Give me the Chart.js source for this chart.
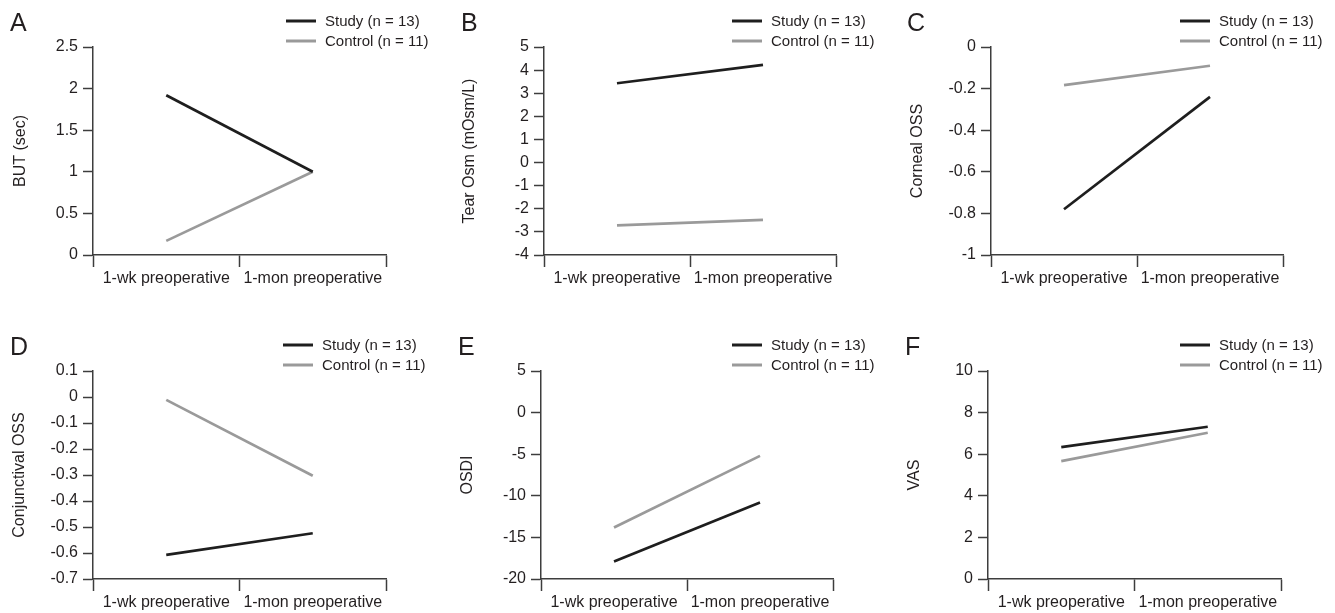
<!DOCTYPE html>
<html lang="en">
<head>
    <meta charset="UTF-8">
    <title>Preoperative changes</title>
    <script src="https://cdn.jsdelivr.net/npm/chart.js"></script>
    <style>
        html, body { margin: 0; padding: 0; background: #fff; overflow: hidden; }
        #wrap { position: relative; width: 1335px; height: 613px; }
        #wrap canvas { position: absolute; }
    </style>
</head>
<body>
    <div id="wrap">
        <canvas id="chartA" width="445" height="300" style="left:0;top:0"></canvas>
        <canvas id="chartB" width="445" height="300" style="left:445px;top:0"></canvas>
        <canvas id="chartC" width="445" height="300" style="left:890px;top:0"></canvas>
        <canvas id="chartD" width="445" height="300" style="left:0;top:324px"></canvas>
        <canvas id="chartE" width="445" height="300" style="left:445px;top:324px"></canvas>
        <canvas id="chartF" width="445" height="300" style="left:890px;top:324px"></canvas>
    </div>
    <script>
        // categories and series names
        const timepoints = ['1-wk preoperative', '1-mon preoperative'];
        const studyName = 'Study (n = 13)';
        const controlName = 'Control (n = 11)';

        // A - BUT
        const butStudy = [1.92, 1.0];
        const butControl = [0.17, 1.0];
        const butTicks = [0, 0.5, 1, 1.5, 2, 2.5];

        // B - tear osmolarity
        const osmStudy = [3.43, 4.23];
        const osmControl = [-2.72, -2.48];
        const osmTicks = [-4, -3, -2, -1, 0, 1, 2, 3, 4, 5];

        // C - corneal OSS
        const cornealStudy = [-0.78, -0.24];
        const cornealControl = [-0.183, -0.09];
        const cornealTicks = [-1, -0.8, -0.6, -0.4, -0.2, 0];

        // D - conjunctival OSS
        const conjStudy = [-0.607, -0.524];
        const conjControl = [-0.011, -0.303];
        const conjTicks = [-0.7, -0.6, -0.5, -0.4, -0.3, -0.2, -0.1, 0, 0.1];

        // E - OSDI
        const osdiStudy = [-17.9, -10.8];
        const osdiControl = [-13.8, -5.2];
        const osdiTicks = [-20, -15, -10, -5, 0, 5];

        // F - VAS
        const vasStudy = [6.34, 7.32];
        const vasControl = [5.67, 7.03];
        const vasTicks = [0, 2, 4, 6, 8, 10];

        const FONT = '"Liberation Sans", Arial, Helvetica, sans-serif';
        const TEXT = '#231f20';
        const AXIS = '#3d3d3d';
        const STUDY_COLOR = '#1e1e1e';
        const CONTROL_COLOR = '#9a9a9a';

        // panel letter + custom two-row legend
        const decor = {
            id: 'decor',
            afterDraw(chart, args, opts) {
                const ctx = chart.ctx;
                ctx.save();
                ctx.fillStyle = TEXT;
                ctx.textAlign = 'left';
                ctx.textBaseline = 'alphabetic';
                ctx.font = '25px ' + FONT;
                ctx.fillText(opts.letter, opts.letterX, 31);

                ctx.font = '15px ' + FONT;
                ctx.textBaseline = 'middle';
                chart.data.datasets.forEach((ds, i) => {
                    const y = 21 + i * 20;
                    ctx.strokeStyle = ds.borderColor;
                    ctx.lineWidth = 3;
                    ctx.beginPath();
                    ctx.moveTo(opts.legendX, y);
                    ctx.lineTo(opts.legendX + 30, y);
                    ctx.stroke();
                    ctx.fillStyle = TEXT;
                    ctx.fillText(ds.label, opts.legendX + 39, y + 1);
                });
                ctx.restore();
            }
        };

        function makePanel(id, p) {
            const ticks = p.ticks;
            new Chart(document.getElementById(id), {
                type: 'line',
                data: {
                    labels: timepoints,
                    datasets: [
                        { label: studyName, data: p.study, borderColor: STUDY_COLOR, backgroundColor: STUDY_COLOR, borderWidth: 2.7, pointRadius: 0, tension: 0 },
                        { label: controlName, data: p.control, borderColor: CONTROL_COLOR, backgroundColor: CONTROL_COLOR, borderWidth: 2.7, pointRadius: 0, tension: 0 }
                    ]
                },
                options: {
                    responsive: false,
                    animation: false,
                    layout: { padding: { top: 47, left: 0, right: p.right, bottom: 0 } },
                    plugins: {
                        legend: { display: false },
                        tooltip: { enabled: false },
                        decor: { letter: p.letter, letterX: p.letterX, legendX: p.legendX }
                    },
                    scales: {
                        x: {
                            type: 'category',
                            offset: true,
                            grid: { offset: true, drawOnChartArea: false, tickLength: 12, tickColor: AXIS, tickWidth: 1.5 },
                            border: { color: AXIS, width: 1.5 },
                            ticks: { color: TEXT, font: { family: FONT, size: 16 }, padding: 2, maxRotation: 0, autoSkip: false },
                            afterFit: s => { s.height = 45; }
                        },
                        y: {
                            min: ticks[0],
                            max: ticks[ticks.length - 1],
                            afterBuildTicks: s => { s.ticks = ticks.map(v => ({ value: v })); },
                            grid: { drawOnChartArea: false, tickLength: 10, tickColor: AXIS, tickWidth: 1.5 },
                            border: { color: AXIS, width: 1.5 },
                            ticks: { color: TEXT, font: { family: FONT, size: 16 }, padding: 5, callback: v => String(v) },
                            title: { display: true, text: p.yTitle, color: TEXT, font: { family: FONT, size: 16 }, padding: { top: p.titlePad, bottom: 0 } },
                            afterFit: s => { s.width = p.left; }
                        }
                    }
                },
                plugins: [decor]
            });
        }

        makePanel('chartA', { letter: 'A', yTitle: 'BUT (sec)', study: butStudy, control: butControl, ticks: butTicks,
            left: 93, right: 59, letterX: 10, legendX: 286, titlePad: 11 });
        makePanel('chartB', { letter: 'B', yTitle: 'Tear Osm (mOsm/L)', study: osmStudy, control: osmControl, ticks: osmTicks,
            left: 99, right: 54, letterX: 16, legendX: 287, titlePad: 15 });
        makePanel('chartC', { letter: 'C', yTitle: 'Corneal OSS', study: cornealStudy, control: cornealControl, ticks: cornealTicks,
            left: 101, right: 52, letterX: 17, legendX: 290, titlePad: 18 });
        makePanel('chartD', { letter: 'D', yTitle: 'Conjunctival OSS', study: conjStudy, control: conjControl, ticks: conjTicks,
            left: 93, right: 59, letterX: 10, legendX: 283, titlePad: 10 });
        makePanel('chartE', { letter: 'E', yTitle: 'OSDI', study: osdiStudy, control: osdiControl, ticks: osdiTicks,
            left: 96, right: 57, letterX: 13, legendX: 287, titlePad: 13 });
        makePanel('chartF', { letter: 'F', yTitle: 'VAS', study: vasStudy, control: vasControl, ticks: vasTicks,
            left: 98, right: 54, letterX: 15, legendX: 290, titlePad: 15 });
    </script>
</body>
</html>
